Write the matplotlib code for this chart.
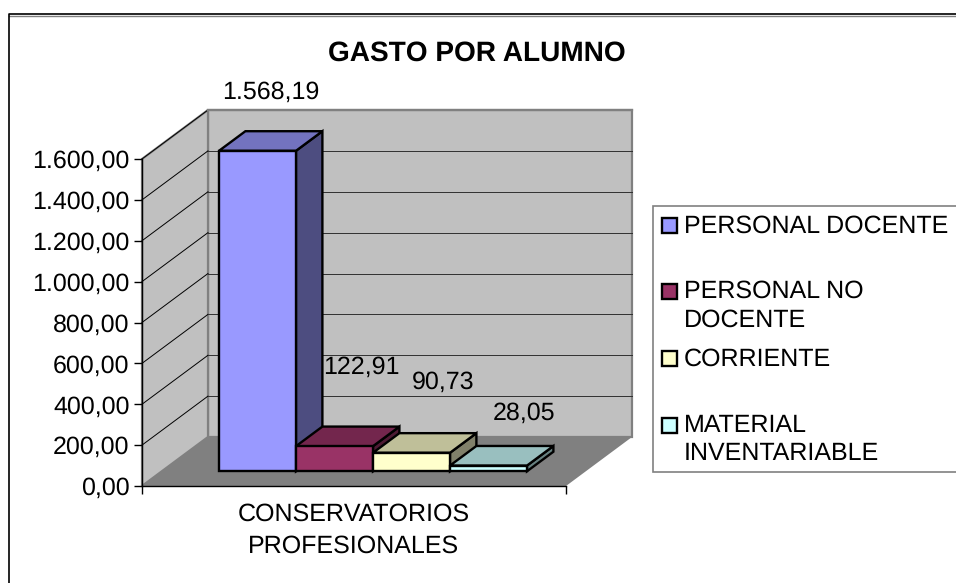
"""
Gasto por alumno - pseudo 3D column chart.
"""

import matplotlib
matplotlib.use('Agg')  # headless
import matplotlib.pyplot as plt
from matplotlib.patches import Polygon, Rectangle
from matplotlib.ticker import FuncFormatter

series_names = ['PERSONAL DOCENTE', 'PERSONAL NO\nDOCENTE', 'CORRIENTE', 'MATERIAL\nINVENTARIABLE']
series_values = [1568.19, 122.91, 90.73, 28.05]
value_labels = ['1.568,19', '122,91', '90,73', '28,05']
category = 'CONSERVATORIOS\nPROFESIONALES'
y_ticks = [0, 200, 400, 600, 800, 1000, 1200, 1400, 1600]

W, H = 956, 583
FONT = 'Liberation Sans'
FS = 18

plt.rcParams['text.hinting'] = 'no_hinting'
plt.rcParams['text.hinting_factor'] = 1

# front, top, side shades per series
shades = [('#9999FF', '#7373BF', '#4D4D80'),
          ('#993366', '#73264D', '#4D1A33'),
          ('#FFFFCC', '#BFBF99', '#80806A'),
          ('#CCFFFF', '#99BFBF', '#668080')]

fig = plt.figure(figsize=(W / 100, H / 100), dpi=100, facecolor='white')


def px(x, y):
    return x / W, 1 - y / H


# plot box = front plane of the 3d box
ax = fig.add_axes([142 / W, 1 - 486 / H, 424 / W, 327 / H])
ax.set_xlim(0, 1)
ax.set_ylim(0, 1600)
ax.patch.set_visible(False)
for name in ['top', 'right']:
    ax.spines[name].set_visible(False)
ax.spines['left'].set_color('black')
ax.spines['bottom'].set_color('black')
ax.spines['left'].set_linewidth(1)
ax.spines['bottom'].set_linewidth(1)

# depth of the box in data units
DX = 66 / 424
DY = 49 / 327 * 1600


def poly(pts, face, edge='none', lw=0.0, z=1):
    ax.add_patch(Polygon(pts, closed=True, facecolor=face, edgecolor=edge, linewidth=lw,
                         joinstyle='miter', clip_on=False, zorder=z))


# walls and floor
poly([(0, 0), (DX, DY), (1 + DX, DY), (1, 0)], '#808080', z=0.5)
poly([(DX, DY), (DX, 1600 + DY), (1 + DX, 1600 + DY), (1 + DX, DY)], '#C0C0C0', '#808080', 1.6, z=0.6)
poly([(0, 0), (DX, DY), (DX, 1600 + DY), (0, 1600)], '#C0C0C0', '#808080', 1.6, z=0.7)

# gridlines
for t in y_ticks[1:]:
    ax.plot([0, DX], [t, t + DY], color='black', lw=0.7, clip_on=False, zorder=0.8)
    if t < 1600:
        ax.plot([DX, 1 + DX], [t + DY, t + DY], color='#303030', lw=0.7, clip_on=False, zorder=0.8)
ax.plot([DX, 1 + DX], [1600 + DY, 1600 + DY], color='#808080', lw=1.6, clip_on=False, zorder=0.8)

# bars, from left to right
near = 0.3
far = 0.7
bar_w = 77 / 424
x_start = (219 - 142 - near * 66) / 424
for i, (v, cols) in enumerate(zip(series_values, shades)):
    x0 = x_start + i * bar_w
    x1 = x0 + bar_w
    ox, oy = near * DX, near * DY
    bx, by = far * DX, far * DY
    z = 2 + i
    poly([(x1 + ox, oy), (x1 + bx, by), (x1 + bx, v + by), (x1 + ox, v + oy)], cols[2], 'black', 1.7, z)
    poly([(x0 + ox, v + oy), (x0 + bx, v + by), (x1 + bx, v + by), (x1 + ox, v + oy)], cols[1], 'black', 1.7, z)
    poly([(x0 + ox, oy), (x0 + ox, v + oy), (x1 + ox, v + oy), (x1 + ox, oy)], cols[0], 'black', 1.7, z)

ax.set_yticks(y_ticks)
ax.yaxis.set_major_formatter(FuncFormatter(lambda v, _: f'{v:,.2f}'.replace(',', ' ').replace('.', ',').replace(' ', '.')))
ax.tick_params(axis='y', length=6, width=1, pad=3, labelsize=FS)
ax.set_xticks([0, 1])
ax.set_xticklabels(['', ''])
ax.tick_params(axis='x', length=6, width=1)
for lab in ax.get_yticklabels():
    lab.set_fontfamily(FONT)

# label positions in pixels, they don't follow the bars in any regular way
label_pos = [(271, 92), (361, 367), (443, 382), (524, 413)]
for text, (x, y) in zip(value_labels, label_pos):
    fig.text(*px(x, y), text, ha='center', va='center', fontsize=FS, family=FONT)

fig.text(*px(354, 530.5), category, ha='center', va='center', fontsize=FS, family=FONT, linespacing=1.5)
fig.text(*px(477, 53.5), 'GASTO POR ALUMNO', ha='center', va='center', fontsize=20.1,
         fontweight='bold', family=FONT)

# legend
fig.add_artist(Rectangle(px(653, 472), 310 / W, 266 / H, transform=fig.transFigure, facecolor='white',
                         edgecolor='#808080', linewidth=1.2))
swatch_y = [225, 291, 358, 425]
text_y = [226, 306, 359, 439.5]
for name, cols, sy, ty in zip(series_names, shades, swatch_y, text_y):
    fig.add_artist(Rectangle(px(662, sy + 7.5), 15 / W, 15 / H, transform=fig.transFigure,
                             facecolor=cols[0], edgecolor='black', linewidth=1.7))
    fig.text(*px(684, ty), name, ha='left', va='center', fontsize=FS, family=FONT, linespacing=1.3)

# chart frame, only top and left are in the picture
fig.add_artist(plt.Line2D([8.5 / W, 1], [1 - 15.5 / H, 1 - 15.5 / H], color='#808080', lw=1,
                          transform=fig.transFigure))
fig.add_artist(plt.Line2D([8.5 / W, 8.5 / W, 1], [0, 1 - 14 / H, 1 - 14 / H], color='black', lw=1.2,
                          transform=fig.transFigure))

fig.savefig('out.png', dpi=100, facecolor='white')
plt.close(fig)
